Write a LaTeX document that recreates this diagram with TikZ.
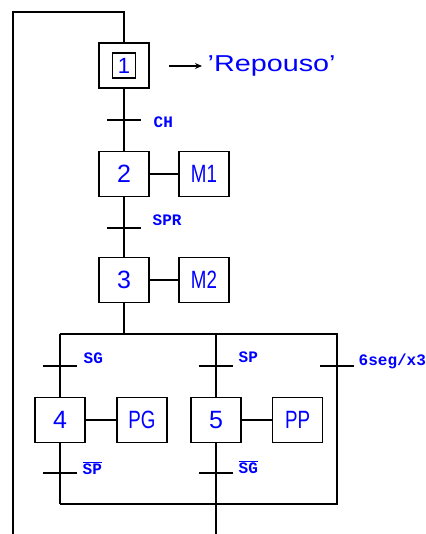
\documentclass[tikz,border=0pt]{standalone}
\usepackage{fontspec}
\usepackage{graphicx}
\setmainfont{Liberation Sans}
\newfontfamily\condfont{Liberation Mono}
\usetikzlibrary{arrows.meta}
\newcommand{\narrow}[1]{\scalebox{0.75}[1]{#1}}
\newcommand{\wide}[1]{\scalebox{1.25}[1]{#1}}
\begin{document}
\begin{tikzpicture}[x=1pt,y=-1pt,line width=1.4pt,
  stepbox/.style={draw,minimum width=50pt,minimum height=45pt,inner sep=0pt,
    text=blue,font=\fontsize{25}{25}\selectfont},
  initbox/.style={draw,minimum width=23pt,minimum height=25pt,inner sep=0pt,
    text=blue,font=\fontsize{22}{22}\selectfont},
  cond/.style={text=blue,anchor=west,inner sep=0pt,
    font=\condfont\fontsize{16}{16}\selectfont\bfseries},
  bigtext/.style={text=blue,anchor=west,inner sep=0pt,
    font=\fontsize{23}{23}\selectfont}]
\clip (0,0) rectangle (425,534);
\useasboundingbox (0,0) rectangle (425,534);

% steps and actions
\node[stepbox] (s1) at (124,65.5) {};
\node[initbox] (s1in) at (s1) {1};
\node[stepbox] (s2) at (124,174) {2};
\node[stepbox] (m1) at (204,174) {\narrow{M1}};
\node[stepbox] (s3) at (124,280) {3};
\node[stepbox] (m2) at (204,280) {\narrow{M2}};
\node[stepbox] (s4) at (60,420) {4};
\node[stepbox] (pg) at (142,420) {\narrow{PG}};
\node[stepbox] (s5) at (216,420) {5};
\node[stepbox] (pp) at (297.5,420) {\narrow{PP}};

% action of the initial step
\coordinate (arrA) at (169,66);
\node[bigtext] (rep) at (207,66) {\wide{'Repouso'}};
\draw[-{Stealth[length=7pt,width=6pt]}] (arrA) -- ([xshift=-5pt]rep.west);

% return loop and sequence
\coordinate (loopA) at (124,12);
\coordinate (loopB) at (13,12);
\coordinate (loopC) at (13,540);
\draw (s1.north) -- (loopA) -- (loopB) -- (loopC);
\draw (s1.south) -- (s2.north);
\draw (s2.south) -- (s3.north);
\draw (s2.east) -- (m1.west);
\draw (s3.east) -- (m2.west);
\draw (s4.east) -- (pg.west);
\draw (s5.east) -- (pp.west);

% parallel frame
\coordinate (ptop) at (124,334);
\coordinate (pl) at (60,334);
\coordinate (pm) at (216,334);
\coordinate (pr) at (337,334);
\coordinate (bl) at (60,504);
\coordinate (bm) at (216,504);
\coordinate (br) at (337,504);
\coordinate (out) at (216,540);
\draw (s3.south) -- (ptop);
\draw (pl) -- (pr) -- (br) -- (bl);
\draw (pl) -- (s4.north);
\draw (s4.south) -- (bl);
\draw (pm) -- (s5.north);
\draw (s5.south) -- (out);

% transitions
\coordinate (t1) at (124,120);
\coordinate (t2) at (124,228);
\coordinate (t3) at (60,366);
\coordinate (t4) at (216,366);
\coordinate (t5) at (337,366);
\coordinate (t6) at (60,473);
\coordinate (t7) at (216,473);
\foreach \t in {t1,t2,t3,t4,t5,t6,t7}
  \draw ([xshift=-17pt]\t) -- ([xshift=17pt]\t);

% receptivities
\node[cond] (c1) at (153,122) {CH};
\node[cond] (c2) at (152,220) {SPR};
\node[cond] (c3) at (83,358) {SG};
\node[cond] (c4) at (238,357) {SP};
\node[cond] (c5) at (358,361) {6seg/x3};
\node[cond] (c6) at (82,468) {$\overline{\mbox{SP}}$};
\node[cond] (c7) at (238,467) {$\overline{\mbox{SG}}$};
\end{tikzpicture}
\end{document}
